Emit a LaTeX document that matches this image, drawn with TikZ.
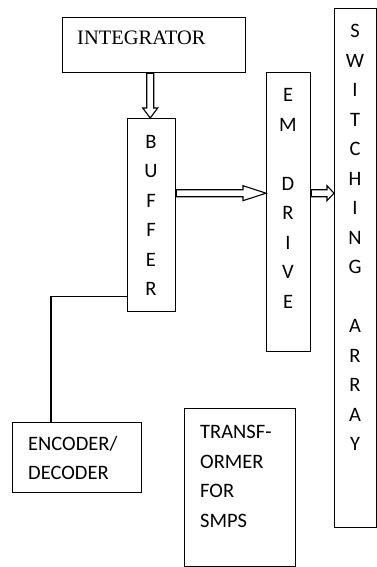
\documentclass[tikz,border=0pt]{standalone}
\usepackage{fontspec}
\setmainfont{Carlito}
\newfontfamily\serifface{Liberation Serif}
\usetikzlibrary{calc}
\begin{document}
\begin{tikzpicture}[x=1pt,y=-1pt,
  blk/.style={draw, line width=1.4pt, inner sep=0pt, anchor=north west},
  lbl/.style={inner sep=0pt, font=\fontsize{20.5}{29.5}\selectfont},
  hollow/.style={draw, line width=1.1pt, fill=white, line join=miter}]
\useasboundingbox (0,0) rectangle (377,567);
% boxes
\node[blk, minimum width=183pt, minimum height=55pt] (integ) at (62,17) {};
\node[blk, minimum width=48pt, minimum height=193pt] (buffer) at (127,118) {};
\node[blk, minimum width=44pt, minimum height=279pt] (em) at (266,72) {};
\node[blk, minimum width=42pt, minimum height=519pt] (sw) at (334,8) {};
\node[blk, minimum width=129pt, minimum height=70pt] (enc) at (12,422) {};
\node[blk, minimum width=111pt, minimum height=158pt] (tr) at (184,408) {};
% texts
\node[inner sep=0pt, anchor=west, font=\serifface\fontsize{20.5}{24}\selectfont] (tinteg) at (77,38) {INTEGRATOR};
\node[lbl, align=center] (tbuf) at (151,215.5) {B\\U\\F\\F\\E\\R};
\node[lbl, align=center] (tem) at (288,198.5) {E\\M\\[29.5pt]D\\R\\I\\V\\E};
\node[lbl, align=center] (tsw) at (355,237.5) {S\\W\\I\\T\\C\\H\\I\\N\\G\\[29.5pt]A\\R\\R\\A\\Y};
\node[lbl, align=left, anchor=west] (tenc) at (28,458) {ENCODER/\\DECODER};
\node[lbl, align=left, anchor=west] (ttr) at (200,476.5) {TRANSF-\\ORMER\\FOR\\SMPS};
% hollow arrows
\coordinate (a1) at ($(buffer.north)+(-1.5,0)$);
\coordinate (s1) at ($(a1)+(-3.5,0)$);
\coordinate (s2) at ($(a1)+(3.5,0)$);
\path[hollow] (a1) -- ($(a1)+(-7.5,-10)$) -- ($(s1)+(0,-10)$) -- (s1 |- integ.south)
  -- (s2 |- integ.south) -- ($(s2)+(0,-10)$) -- ($(a1)+(7.5,-10)$) -- cycle;
\coordinate (a2) at ($(em.west)+(0,-19)$);
\coordinate (t1) at ($(a2)+(0,-3.5)$);
\coordinate (t2) at ($(a2)+(0,3.5)$);
\path[hollow] (a2) -- ($(a2)+(-23,-7.5)$) -- ($(t1)+(-23,0)$) -- (t1 -| buffer.east)
  -- (t2 -| buffer.east) -- ($(t2)+(-23,0)$) -- ($(a2)+(-23,7.5)$) -- cycle;
\coordinate (a3) at ($(sw.west)+(0,-75)$);
\coordinate (u1) at ($(a3)+(0,-3.5)$);
\coordinate (u2) at ($(a3)+(0,3.5)$);
\path[hollow] (a3) -- ($(a3)+(-7,-7.5)$) -- ($(u1)+(-7,0)$) -- (u1 -| em.east)
  -- (u2 -| em.east) -- ($(u2)+(-7,0)$) -- ($(a3)+(-7,7.5)$) -- cycle;
% connector
\draw[line width=1.4pt] ($(buffer.south west)+(0,-16)$) -| ($(enc.north west)+(39,0)$);
\end{tikzpicture}
\end{document}
